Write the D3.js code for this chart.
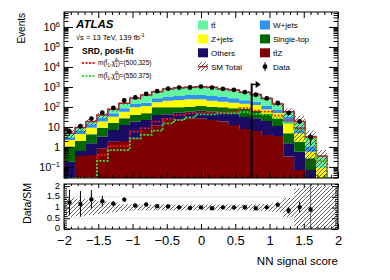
<!DOCTYPE html>
<html>
<head>
<meta charset="utf-8">
<script src="https://cdn.jsdelivr.net/npm/d3@7"></script>
<style>
  body { margin: 0; background: #fff; }
  svg { font-family: "Liberation Sans", Arial, Helvetica, sans-serif; }
</style>
</head>
<body>
<div id="chart"></div>
<script>
// NN score bins
const binEdges = [-2, -1.84, -1.68, -1.52, -1.36, -1.2, -1.04, -0.88, -0.72, -0.56, -0.4, -0.24, -0.08,
                  0.08, 0.24, 0.4, 0.56, 0.72, 0.88, 1.04, 1.2, 1.36, 1.52, 1.68, 1.84, 2];

// post-fit background yields per bin
const ttZ       = [0.01, 0.35, 0.40, 0.86, 1.84, 2.0, 2.7, 7, 12, 22.4, 24.3, 27, 27, 22.4, 18.6, 12.6, 7.9, 6.3, 4, 3.5, 0.33, 0.07, 0.02, 0, 0];
const others    = [0.17, 0.28, 1.13, 2.44, 5.26, 10.6, 15.8, 15.4, 28, 20.6, 27.7, 31, 38, 35.6, 33.4, 35.4, 23.7, 20.7, 16, 7.7, 1.2, 0.51, 0.05, 0, 0];
const singleTop = [0.86, 1.37, 2.77, 5.9, 9.3, 14.6, 21.5, 26, 57, 54, 45, 45, 47, 45, 45, 38, 47, 36, 25, 15.4, 3.27, 1.26, 0.2, 0, 0];
const zJets     = [1.2, 2.5, 4.9, 9.3, 16.3, 30.8, 57, 63.6, 75, 110, 127, 140, 131, 104, 87, 78, 67, 63, 30, 23.4, 10.5, 2.96, 0.31, 0.09, 0];
const wJets     = [0.66, 1.8, 4.5, 10.5, 15.7, 28, 44, 52, 100, 123, 131, 155, 155, 148, 146, 108, 70, 58, 37, 21, 16.3, 5.2, 0.46, 0, 0];
const ttbar     = [1.94, 3.1, 5.1, 11, 27.6, 67, 131, 234, 308, 464, 565, 562, 632, 605, 464, 436, 334, 236, 154, 69, 26.4, 8.6, 2.26, 0.26, 0];
const smRelUnc  = [0.45, 0.4, 0.35, 0.3, 0.22, 0.16, 0.14, 0.14, 0.14, 0.14, 0.14, 0.14, 0.14, 0.14, 0.14, 0.14, 0.14, 0.15, 0.17, 0.22, 0.45, 0.9, 1.0, 1.0, 1.0];

const dataCounts = [6, 11, 26, 52, 90, 210, 299, 454, 615, 834, 929, 941, 1040, 931, 802, 715, 556, 407, 269, 158, 50, 19, 3, 0, 0];
const ratioErr   = [0.6, 0.6, 0.43, 0.25, 0.12, 0.1, 0.07, 0.06, 0.05, 0.04, 0.04, 0.04, 0.04, 0.04, 0.04, 0.04, 0.05, 0.05, 0.07, 0.09, 0.15, 0.25, 1.5, 0, 0];

// signal benchmarks
const sig500 = [0, 0, 0, 0.40, 1.1, 1.1, 5.8, 8.5, 18.6, 25, 40, 48, 54, 54, 54, 56, 86, 65, 58, 37, 22, 8.6, 2.7, 0.2, 0];
const sig550 = [0, 0, 0, 0.2, 0.7, 0.7, 2.7, 4, 6.5, 15, 22, 30, 43, 43, 48, 48, 55, 45, 42, 28, 16, 7, 2.5, 0.2, 0];

const cutValue = 0.74;
const cutTop = 1500;
const yMajorTicks = [0.1, 1, 10, 100, 1e3, 1e4, 1e5, 1e6];

const W = 390, H = 280;
const mainBox = {left: 64, right: 338, top: 12, bottom: 178};
const ratioBox = {left: 64, right: 338, top: 184, bottom: 229};

const keys = ["ttZ", "others", "singleTop", "zJets", "wJets", "ttbar"];
const colors = {ttZ: "#7f0000", others: "#1a0c66", singleTop: "#006600", zJets: "#ffff00", wJets: "#2e94f0", ttbar: "#62f5a2"};

const svg = d3.select("#chart").append("svg").attr("width", W).attr("height", H);

const x = d3.scaleLinear().domain([-2, 2]).range([mainBox.left, mainBox.right]);
const yMin = 0.028, yMax = 5.6e6;
const y = d3.scaleLog().domain([yMin, yMax]).range([mainBox.bottom, mainBox.top]).clamp(true);
const yr = d3.scaleLinear().domain([0, 2.1]).range([ratioBox.bottom, ratioBox.top]).clamp(true);
const cy = v => y(Math.max(v, yMin));

// defs: hatch + clips
const defs = svg.append("defs");
const hatch = defs.append("pattern").attr("id", "hatch").attr("patternUnits", "userSpaceOnUse")
  .attr("width", 4).attr("height", 4);
hatch.append("path").attr("d", "M-1,1 l2,-2 M0,4 l4,-4 M3,5 l2,-2")
  .attr("stroke", "#222").attr("stroke-width", 0.7);
defs.append("clipPath").attr("id", "clipMain").append("rect")
  .attr("x", mainBox.left).attr("y", mainBox.top)
  .attr("width", mainBox.right - mainBox.left).attr("height", mainBox.bottom - mainBox.top);
defs.append("clipPath").attr("id", "clipRatio").append("rect")
  .attr("x", ratioBox.left).attr("y", ratioBox.top)
  .attr("width", ratioBox.right - ratioBox.left).attr("height", ratioBox.bottom - ratioBox.top);

// table of bins
const rows = binEdges.slice(0, -1).map((lo, i) => ({
  lo, hi: binEdges[i + 1], mid: (lo + binEdges[i + 1]) / 2,
  ttZ: ttZ[i], others: others[i], singleTop: singleTop[i], zJets: zJets[i], wJets: wJets[i], ttbar: ttbar[i],
  data: dataCounts[i], unc: smRelUnc[i], rerr: ratioErr[i], s500: sig500[i], s550: sig550[i]
}));
rows.forEach(r => r.total = d3.sum(keys, k => r[k]));

const series = d3.stack().keys(keys)(rows);
const stepArea = d3.area().x(p => x(p.x)).y0(p => cy(p.y0)).y1(p => cy(p.y1));
const stepLine = d3.line().x(p => x(p.x)).y(p => cy(p.y));
const steps = f => rows.flatMap(r => [{x: r.lo, y: f(r)}, {x: r.hi, y: f(r)}]);

const main = svg.append("g").attr("clip-path", "url(#clipMain)");

// stacked backgrounds
main.selectAll(".layer")
  .data(series)
  .enter()
  .append("path")
    .attr("class", "layer")
    .attr("fill", s => colors[s.key])
    .attr("d", s => stepArea(s.flatMap(d => [
      {x: d.data.lo, y0: d[0], y1: d[1]},
      {x: d.data.hi, y0: d[0], y1: d[1]}])));

// SM uncertainty band
main.append("path")
  .attr("fill", "url(#hatch)")
  .attr("d", stepArea(rows.filter(r => r.total > 0).flatMap(r => [
    {x: r.lo, y0: r.total * (1 - r.unc), y1: r.total * (1 + r.unc)},
    {x: r.hi, y0: r.total * (1 - r.unc), y1: r.total * (1 + r.unc)}])));

// SM total outline
main.append("path")
  .attr("fill", "none").attr("stroke", "#a3262a").attr("stroke-width", 1.5)
  .attr("d", stepLine([{x: -2, y: 0}, ...steps(r => r.total)]));

// signals
main.append("path")
  .attr("fill", "none").attr("stroke", "#ff1010").attr("stroke-width", 1.8)
  .attr("stroke-dasharray", "2,1.5")
  .attr("d", stepLine(steps(r => r.s500)));
main.append("path")
  .attr("fill", "none").attr("stroke", "#3ce03c").attr("stroke-width", 1.8)
  .attr("stroke-dasharray", "2,1.5")
  .attr("d", stepLine(steps(r => r.s550)));

// data
const pts = rows.filter(r => r.data > 0);
main.selectAll(".derr")
  .data(pts)
  .enter()
  .append("line")
    .attr("x1", d => x(d.mid)).attr("x2", d => x(d.mid))
    .attr("y1", d => cy(d.data + Math.sqrt(d.data)))
    .attr("y2", d => cy(Math.max(d.data - Math.sqrt(d.data), yMin)))
    .attr("stroke", "#000").attr("stroke-width", 1);
main.selectAll(".dpt")
  .data(pts)
  .enter()
  .append("circle")
    .attr("cx", d => x(d.mid)).attr("cy", d => cy(d.data)).attr("r", 2.4)
    .attr("fill", "#000");

// cut arrow
svg.append("line")
  .attr("x1", x(cutValue)).attr("x2", x(cutValue))
  .attr("y1", y(cutTop)).attr("y2", mainBox.bottom)
  .attr("stroke", "#000").attr("stroke-width", 2);
svg.append("line")
  .attr("x1", x(cutValue)).attr("x2", x(cutValue) + 5)
  .attr("y1", y(cutTop) + 1).attr("y2", y(cutTop) + 1)
  .attr("stroke", "#000").attr("stroke-width", 1.5);
svg.append("path")
  .attr("d", `M${x(cutValue) + 4},${y(cutTop) - 2.5} l5,3.5 l-5,3.5 z`)
  .attr("fill", "#000");

// ---- ratio panel
const ratio = svg.append("g").attr("clip-path", "url(#clipRatio)");
[0.5, 1, 1.5].forEach(v => {
  ratio.append("line")
    .attr("x1", ratioBox.left).attr("x2", ratioBox.right)
    .attr("y1", yr(v)).attr("y2", yr(v))
    .attr("stroke", "#aaa").attr("stroke-width", 0.8).attr("stroke-dasharray", "1,1.5");
});
ratio.append("path")
  .attr("fill", "url(#hatch)")
  .attr("d", d3.area().x(p => x(p.x)).y0(p => yr(p.y0)).y1(p => yr(p.y1))(rows.flatMap(r => [
    {x: r.lo, y0: 1 - r.unc, y1: 1 + r.unc},
    {x: r.hi, y0: 1 - r.unc, y1: 1 + r.unc}])));
const rpts = rows.filter(r => r.data > 0 && r.total > 0);
ratio.selectAll(".rerr")
  .data(rpts)
  .enter()
  .append("line")
    .attr("x1", d => x(d.mid)).attr("x2", d => x(d.mid))
    .attr("y1", d => yr(d.data / d.total + d.rerr))
    .attr("y2", d => yr(d.data / d.total - d.rerr))
    .attr("stroke", d => d.rerr > 1 ? "#666" : "#000").attr("stroke-width", 1);
ratio.selectAll(".rpt")
  .data(rpts)
  .enter()
  .append("circle")
    .attr("cx", d => x(d.mid)).attr("cy", d => yr(d.data / d.total)).attr("r", 2.2)
    .attr("fill", "#000");

// ---- frames and axes
const noDomain = g => g.select(".domain").remove();
[mainBox, ratioBox].forEach(b => {
  svg.append("rect")
    .attr("x", b.left).attr("y", b.top).attr("width", b.right - b.left).attr("height", b.bottom - b.top)
    .attr("fill", "none").attr("stroke", "#000").attr("stroke-width", 1);
});

const yAll = y.ticks(10);
const yMinor = yAll.filter(t => Math.abs(Math.log10(t) - Math.round(Math.log10(t))) > 1e-6);
[[d3.axisLeft, mainBox.left], [d3.axisRight, mainBox.right]].forEach(([ax, pos]) => {
  svg.append("g").attr("transform", `translate(${pos},0)`)
    .call(ax(y).tickValues(yMinor).tickSize(-4.5).tickFormat(""))
    .call(noDomain);
});
svg.append("g").attr("transform", `translate(${mainBox.right},0)`)
  .call(d3.axisRight(y).tickValues(yMajorTicks).tickSize(-9).tickFormat(""))
  .call(noDomain);
const yLab = svg.append("g").attr("transform", `translate(${mainBox.left},0)`)
  .call(d3.axisLeft(y).tickValues(yMajorTicks).tickSize(-9).tickPadding(4).tickFormat(""))
  .call(noDomain);
yLab.selectAll(".tick text")
  .attr("font-size", 11).attr("fill", "#000").attr("font-family", null)
  .each(function (d) {
    const e = Math.round(Math.log10(d));
    const t = d3.select(this);
    if (e === 0) { t.text("1"); return; }
    if (e === 1) { t.text("10"); return; }
    t.append("tspan").text("10");
    t.append("tspan").attr("font-size", 7.5).attr("dy", "-0.55em").text(e < 0 ? "\u2212" + (-e) : e);
  });

// x ticks (main top/bottom, ratio top/bottom)
const xMajor = x.ticks(8), xMinor = x.ticks(40).filter(t => !xMajor.includes(t));
[[d3.axisBottom, mainBox.bottom, 6, 3], [d3.axisTop, mainBox.top, 6, 3],
 [d3.axisTop, ratioBox.top, 4, 2]].forEach(([ax, pos, big, small]) => {
  svg.append("g").attr("transform", `translate(0,${pos})`)
    .call(ax(x).tickValues(xMinor).tickSize(-small).tickFormat("")).call(noDomain);
  svg.append("g").attr("transform", `translate(0,${pos})`)
    .call(ax(x).tickValues(xMajor).tickSize(-big).tickFormat("")).call(noDomain);
});
svg.append("g").attr("transform", `translate(0,${ratioBox.bottom})`)
  .call(d3.axisBottom(x).tickValues(xMinor).tickSize(-2.5).tickFormat("")).call(noDomain);
svg.append("g").attr("transform", `translate(0,${ratioBox.bottom})`)
  .call(d3.axisBottom(x).tickValues(xMajor).tickSize(-5).tickPadding(7).tickFormat(d3.format("~g")))
  .call(noDomain)
  .selectAll("text").attr("font-size", 13).attr("font-family", null).attr("fill", "#000");

// ratio y ticks
const rMajor = yr.ticks(4), rMinor = yr.ticks(20).filter(t => !rMajor.includes(t));
[[d3.axisLeft, ratioBox.left], [d3.axisRight, ratioBox.right]].forEach(([ax, pos]) => {
  svg.append("g").attr("transform", `translate(${pos},0)`)
    .call(ax(yr).tickValues(rMinor).tickSize(-3).tickFormat("")).call(noDomain);
});
svg.append("g").attr("transform", `translate(${ratioBox.right},0)`)
  .call(d3.axisRight(yr).tickValues(rMajor).tickSize(-6).tickFormat("")).call(noDomain);
svg.append("g").attr("transform", `translate(${ratioBox.left},0)`)
  .call(d3.axisLeft(yr).tickValues(rMajor).tickSize(-6).tickPadding(4).tickFormat(d3.format("~g")))
  .call(noDomain)
  .selectAll("text").attr("font-size", 9.5).attr("font-family", null).attr("fill", "#000")
  .attr("dy", "0.2em");

// axis titles
svg.append("text").attr("transform", `translate(25,${mainBox.top + 1}) rotate(-90)`)
  .attr("text-anchor", "end").attr("font-size", 10).text("Events");
svg.append("text").attr("transform", `translate(31,${ratioBox.top - 1}) rotate(-90)`)
  .attr("text-anchor", "end").attr("font-size", 10.5).text("Data/SM");
svg.append("text").attr("x", mainBox.right).attr("y", 265)
  .attr("text-anchor", "end").attr("font-size", 11.5).text("NN signal score");

// ATLAS label
svg.append("text").attr("x", 76).attr("y", 28).attr("font-size", 11.5)
  .attr("font-weight", "bold").attr("font-style", "italic").text("ATLAS");
const lumi = svg.append("text").attr("x", 76).attr("y", 39.5).attr("font-size", 7.5);
lumi.append("tspan").text("\u221As = 13 TeV, 139 fb");
lumi.append("tspan").attr("font-size", 5).attr("dy", -3).text("-1");
svg.append("text").attr("x", 82).attr("y", 54).attr("font-size", 8.5)
  .attr("font-weight", "bold").text("SRD, post-fit");

// signal legend
[["#ff1010", "500,325", 63], ["#3ce03c", "550,375", 76]].forEach(([col, masses, ly]) => {
  svg.append("line").attr("x1", 82).attr("x2", 95).attr("y1", ly).attr("y2", ly)
    .attr("stroke", col).attr("stroke-width", 1.8).attr("stroke-dasharray", "2,1.5");
  const t = svg.append("text").attr("x", 98).attr("y", ly + 2.3).attr("font-size", 6.5);
  t.append("tspan").text("m(t\u0303");
  t.append("tspan").attr("font-size", 4.5).attr("dy", 1.5).text("1");
  t.append("tspan").attr("dy", -1.5).text(",\u03C7\u0303");
  t.append("tspan").attr("font-size", 4.5).attr("dy", 1.5).text("1");
  t.append("tspan").attr("font-size", 4.5).attr("dx", -2.5).attr("dy", -4.5).text("0");
  t.append("tspan").attr("dy", 3).text(")=(" + masses + ")");
});

// background legend
const legend = [
  {label: "t\u0074\u0304", key: "ttbar", col: 0, row: 0},
  {label: "Z+jets", key: "zJets", col: 0, row: 1},
  {label: "Others", key: "others", col: 0, row: 2},
  {label: "SM Total", key: "sm", col: 0, row: 3},
  {label: "W+jets", key: "wJets", col: 1, row: 0},
  {label: "Single-top", key: "singleTop", col: 1, row: 1},
  {label: "t\u0074\u0304Z", key: "ttZ", col: 1, row: 2},
  {label: "Data", key: "data", col: 1, row: 3}
];
const legX = [198, 260], legY0 = 25, legDy = 13.9;
legend.forEach(l => {
  const lx = legX[l.col], ly = legY0 + l.row * legDy;
  if (keys.includes(l.key)) {
    svg.append("rect").attr("x", lx).attr("y", ly - 4.5).attr("width", 10).attr("height", 9)
      .attr("fill", colors[l.key]);
  } else if (l.key === "sm") {
    svg.append("rect").attr("x", lx).attr("y", ly - 4.5).attr("width", 10).attr("height", 9)
      .attr("fill", "url(#hatch)");
    svg.append("line").attr("x1", lx).attr("x2", lx + 10).attr("y1", ly).attr("y2", ly)
      .attr("stroke", "#a3262a").attr("stroke-width", 1.5);
  } else {
    svg.append("line").attr("x1", lx + 5).attr("x2", lx + 5).attr("y1", ly - 4.5).attr("y2", ly + 4.5)
      .attr("stroke", "#000").attr("stroke-width", 1);
    svg.append("circle").attr("cx", lx + 5).attr("cy", ly).attr("r", 2.4).attr("fill", "#000");
  }
  svg.append("text").attr("x", lx + 13).attr("y", ly + 3).attr("font-size", 8).text(l.label);
});
</script>
</body>
</html>
